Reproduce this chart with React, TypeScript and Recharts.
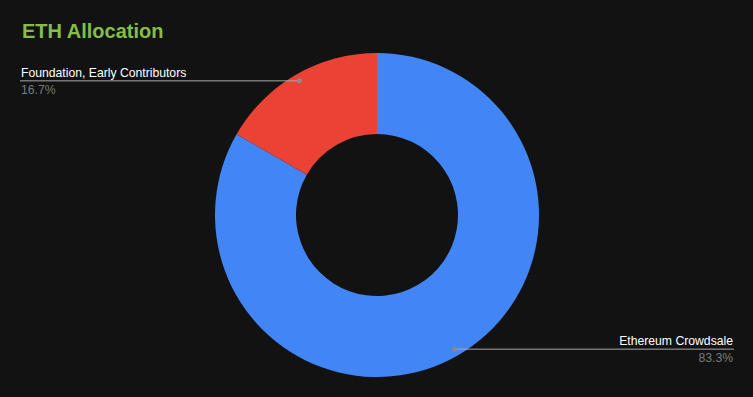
import React from 'react';
import { PieChart, Pie, Cell } from 'recharts';

const categories = ['Ethereum Crowdsale', 'Foundation, Early Contributors'];
const shares = [83.3, 16.7];
const colors = ['#4285f4', '#ea4335'];

const data = categories.map((name, i) => ({ name, value: shares[i] }));

const RADIAN = Math.PI / 180;

function renderLabel(props: any) {
  const { cx, cy, midAngle, outerRadius, name, value } = props;
  const r = outerRadius - 7;
  const x = cx + r * Math.cos(-midAngle * RADIAN);
  const y = cy + r * Math.sin(-midAngle * RADIAN);
  const left = x < cx;
  const endX = left ? 20 : 734;
  const textX = left ? 21 : 733;
  const anchor = left ? 'start' : 'end';
  return (
    <g>
      <line x1={x} y1={y} x2={endX} y2={y} stroke="#a8a8a8" strokeWidth={1} />
      <circle cx={x} cy={y} r={2.5} fill="#8a8a8a" />
      <text x={textX} y={y - 4} textAnchor={anchor} fill="#ffffff" fontSize={12.2}>
        {name}
      </text>
      <text x={textX} y={y + 13} textAnchor={anchor} fill="#7a7a7a" fontSize={12.2}>
        {`${value.toFixed(1)}%`}
      </text>
    </g>
  );
}

export default function App() {
  return (
    <div
      style={{
        position: 'absolute',
        left: 0,
        top: 0,
        width: 753,
        height: 397,
        background: '#121212',
        fontFamily: '"Liberation Sans", Arial, sans-serif',
      }}
    >
      <div
        style={{
          position: 'absolute',
          left: 22,
          top: 18,
          color: '#86bd4a',
          fontSize: 20,
          fontWeight: 'bold',
          lineHeight: '26px',
        }}
      >
        ETH Allocation
      </div>
      <PieChart width={753} height={397} margin={{ top: 0, right: 0, bottom: 0, left: 0 }}>
        <Pie
          data={data}
          dataKey="value"
          nameKey="name"
          cx={377}
          cy={215}
          innerRadius={81}
          outerRadius={162}
          startAngle={90}
          endAngle={-270}
          stroke="none"
          label={renderLabel}
          labelLine={false}
          isAnimationActive={false}
        >
          {data.map((d, i) => (
            <Cell key={d.name} fill={colors[i]} />
          ))}
        </Pie>
      </PieChart>
    </div>
  );
}
